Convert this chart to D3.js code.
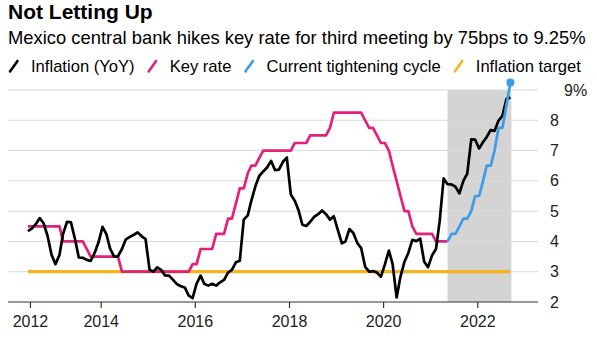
<!DOCTYPE html>
<html>
<head>
<meta charset="utf-8">
<script src="https://cdn.jsdelivr.net/npm/d3@7"></script>
<style>
  body { margin: 0; background: #fff; }
  svg { font-family: "Liberation Sans", Arial, Helvetica, sans-serif; }
</style>
</head>
<body>
<div id="chart"></div>
<script>
// Mexico CPI YoY (%), monthly from Jun 2012 to Sep 2022
var inflationStart = [2012, 6];
var inflation = [
  4.34, 4.42, 4.57, 4.77, 4.60, 4.18, 3.57,
  3.25, 3.55, 4.25, 4.65, 4.63, 4.09, 3.47, 3.46, 3.39, 3.36, 3.62, 3.97,
  4.48, 4.23, 3.76, 3.50, 3.51, 3.75, 4.07, 4.15, 4.22, 4.30, 4.17, 4.08,
  3.07, 3.00, 3.14, 3.06, 2.88, 2.87, 2.74, 2.59, 2.52, 2.48, 2.21, 2.13,
  2.61, 2.87, 2.60, 2.54, 2.60, 2.54, 2.65, 2.73, 2.97, 3.06, 3.31, 3.36,
  4.72, 4.86, 5.35, 5.82, 6.16, 6.31, 6.44, 6.66, 6.35, 6.37, 6.63, 6.77,
  5.55, 5.34, 5.04, 4.55, 4.51, 4.65, 4.81, 4.90, 5.02, 4.90, 4.72, 4.83,
  4.37, 3.94, 4.00, 4.41, 4.28, 3.95, 3.78, 3.16, 3.00, 3.02, 2.97, 2.83,
  3.24, 3.70, 3.25, 2.15, 2.84, 3.33, 3.62, 4.05, 4.01, 4.09, 3.33, 3.15,
  3.54, 3.76, 4.67, 6.08, 5.89, 5.88, 5.81, 5.59, 6.00, 6.24, 7.37, 7.36,
  7.07, 7.28, 7.45, 7.68, 7.65, 7.99, 8.15, 8.70, 8.75
];

// Banxico overnight rate (%), monthly from Jun 2012 to May 2021
var keyRateStart = [2012, 6];
var keyRate = [
  4.50, 4.50, 4.50, 4.50, 4.50, 4.50, 4.50,
  4.50, 4.50, 4.00, 4.00, 4.00, 4.00, 4.00, 4.00, 3.75, 3.50, 3.50, 3.50,
  3.50, 3.50, 3.50, 3.50, 3.50, 3.00, 3.00, 3.00, 3.00, 3.00, 3.00, 3.00,
  3.00, 3.00, 3.00, 3.00, 3.00, 3.00, 3.00, 3.00, 3.00, 3.00, 3.00, 3.25,
  3.25, 3.75, 3.75, 3.75, 3.75, 4.25, 4.25, 4.25, 4.75, 4.75, 5.25, 5.75,
  5.75, 6.25, 6.50, 6.50, 6.75, 7.00, 7.00, 7.00, 7.00, 7.00, 7.00, 7.00,
  7.00, 7.25, 7.25, 7.25, 7.25, 7.50, 7.50, 7.50, 7.50, 7.50, 7.75, 8.25,
  8.25, 8.25, 8.25, 8.25, 8.25, 8.25, 8.25, 8.00, 7.75, 7.75, 7.50, 7.25,
  7.25, 7.00, 6.50, 6.00, 5.50, 5.00, 5.00, 4.50, 4.25, 4.25, 4.25, 4.25,
  4.25, 4.00, 4.00, 4.00, 4.00
];

// Current tightening cycle, monthly from May 2021 to Sep 2022
var cycleStart = [2021, 5];
var cycleRate = [
  4.00, 4.25, 4.25, 4.50, 4.75, 4.75, 5.00, 5.50,
  5.50, 6.00, 6.50, 6.50, 7.00, 7.75, 7.75, 8.50, 9.25
];

var inflationTarget = 3;

var yTicks = [2, 3, 4, 5, 6, 7, 8, 9];
var xTickLabels = ["2012", "2014", "2016", "2018", "2020", "2022"];
var xTickDates = ["2012-07-01", "2014-01-01", "2016-01-01", "2018-01-01", "2020-01-01", "2022-01-01"];

var legendItems = [
  { label: "Inflation (YoY)", color: "#000000" },
  { label: "Key rate", color: "#e4207e" },
  { label: "Current tightening cycle", color: "#3a9de6" },
  { label: "Inflation target", color: "#f4b51c" }
];

function monthly(start, values) {
  return values.map(function (v, i) {
    return { date: new Date(start[0], start[1] - 1 + i, 15), value: v };
  });
}

var inflationData = monthly(inflationStart, inflation);
var keyRateData = monthly(keyRateStart, keyRate);
var cycleData = monthly(cycleStart, cycleRate);

var W = 597, H = 344;
var gridLeft = 8, gridRight = 538;

var svg = d3.select("#chart").append("svg")
  .attr("width", W)
  .attr("height", H);

var x = d3.scaleTime()
  .domain([new Date(2014, 0, 1), new Date(2022, 0, 1)])
  .range([100.7, 477.3]);

var y = d3.scaleLinear()
  .domain([2, 9])
  .range([302, 90]);

// header
svg.append("text")
  .attr("x", 8).attr("y", 19)
  .style("font-size", "21px").style("font-weight", "bold")
  .text("Not Letting Up");

svg.append("text")
  .attr("x", 8).attr("y", 44)
  .style("font-size", "18.4px")
  .text("Mexico central bank hikes key rate for third meeting by 75bps to 9.25%");

// legend
var lx = 10;
legendItems.forEach(function (d) {
  svg.append("line")
    .attr("x1", lx).attr("y1", 71.5)
    .attr("x2", lx + 7.5).attr("y2", 61)
    .attr("stroke", d.color).attr("stroke-width", 2.6)
    .attr("stroke-linecap", "round");
  var t = svg.append("text")
    .attr("x", lx + 21).attr("y", 72)
    .style("font-size", "16.6px")
    .text(d.label);
  lx = lx + 21 + t.node().getComputedTextLength() + 14;
});

// shaded tightening period
svg.append("rect")
  .attr("x", x(cycleData[0].date))
  .attr("y", y(9))
  .attr("width", x(cycleData[cycleData.length - 1].date) - x(cycleData[0].date) + 1)
  .attr("height", y(2) - y(9))
  .attr("fill", "#d4d4d4");

// gridlines
svg.append("g").selectAll("line")
  .data(yTicks.filter(function (d) { return d > 2; }))
  .enter().append("line")
  .attr("x1", gridLeft).attr("x2", gridRight)
  .attr("y1", function (d) { return y(d); })
  .attr("y2", function (d) { return y(d); })
  .attr("stroke", "#d9d9d9").attr("stroke-width", 1);

// y labels on the right
svg.append("g").selectAll("text")
  .data(yTicks)
  .enter().append("text")
  .attr("x", function (d) { return d === 9 ? 564 : 550; })
  .attr("y", function (d) { return y(d); })
  .attr("dy", "0.35em")
  .style("font-size", "16px")
  .style("fill", "#222")
  .text(function (d) { return d === 9 ? d + "%" : d; });

// x axis
var xAxis = d3.axisBottom(x)
  .tickValues(xTickDates.map(function (s) { return new Date(s + "T00:00:00"); }))
  .tickFormat(function (d, i) { return xTickLabels[i]; })
  .tickSize(6)
  .tickPadding(8);

var xg = svg.append("g")
  .attr("transform", "translate(0," + y(2) + ")")
  .call(xAxis);
xg.select(".domain").remove();
xg.selectAll(".tick line").attr("stroke", "#333").attr("stroke-width", 1.2);
xg.selectAll(".tick text")
  .style("font-size", "16px")
  .style("font-family", "\"Liberation Sans\", Arial, sans-serif")
  .attr("fill", "#222");
svg.append("line")
  .attr("x1", gridLeft).attr("x2", gridRight)
  .attr("y1", y(2)).attr("y2", y(2))
  .attr("stroke", "#333").attr("stroke-width", 1.2);

// series
var line = d3.line()
  .x(function (d) { return x(d.date); })
  .y(function (d) { return y(d.value); });

svg.append("line")
  .attr("x1", x(inflationData[0].date))
  .attr("x2", x(inflationData[inflationData.length - 1].date))
  .attr("y1", y(inflationTarget)).attr("y2", y(inflationTarget))
  .attr("stroke", legendItems[3].color).attr("stroke-width", 3.2);

svg.append("path")
  .datum(keyRateData)
  .attr("d", line)
  .attr("fill", "none")
  .attr("stroke", legendItems[1].color)
  .attr("stroke-width", 2.7)
  .attr("stroke-linejoin", "round");

svg.append("path")
  .datum(inflationData)
  .attr("d", line)
  .attr("fill", "none")
  .attr("stroke", legendItems[0].color)
  .attr("stroke-width", 2.7)
  .attr("stroke-linejoin", "round");

svg.append("path")
  .datum(cycleData)
  .attr("d", line)
  .attr("fill", "none")
  .attr("stroke", legendItems[2].color)
  .attr("stroke-width", 2.7)
  .attr("stroke-linejoin", "round");

var last = cycleData[cycleData.length - 1];
svg.append("circle")
  .attr("cx", x(last.date))
  .attr("cy", y(last.value))
  .attr("r", 4)
  .attr("fill", legendItems[2].color);
</script>
</body>
</html>
